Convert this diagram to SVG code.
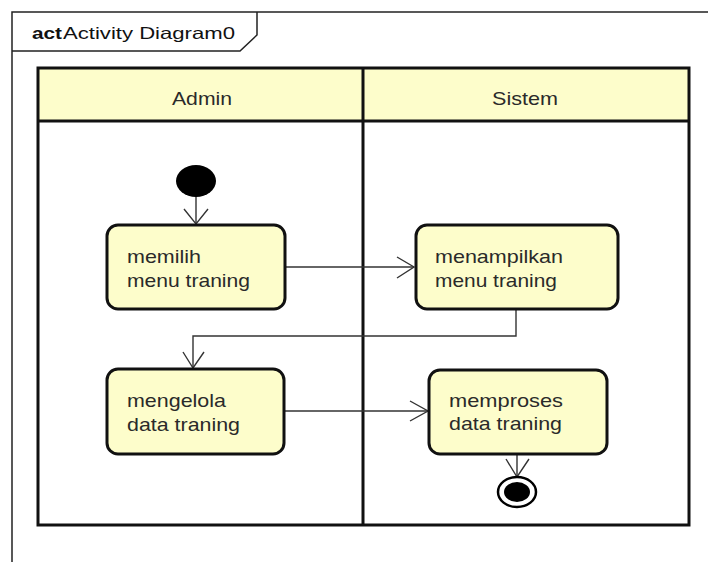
<svg xmlns="http://www.w3.org/2000/svg" width="708" height="562" viewBox="0 0 708 562">
<defs>
<style>
.frame{fill:none;stroke:#222;stroke-width:1.5}
.lane{fill:none;stroke:#111;stroke-width:3}
.hdr{fill:#fdfdcb;stroke:none}
.node{fill:#fdfdcb;stroke:#111;stroke-width:3}
.t{font-family:"Liberation Sans",Arial,sans-serif;font-size:19px;fill:#2a2a2a}
.edge{fill:none;stroke:#333;stroke-width:1.4}
.head{fill:none;stroke:#333;stroke-width:1.4}
</style>
</defs>
<rect width="708" height="562" fill="#fff"/>
<g id="frame">
<path class="frame" d="M12,562 V12 H708"/>
<path class="frame" d="M12,51 H240 L257,35 V12"/>
<text x="32" y="39" font-family="'Liberation Sans',Arial,sans-serif" font-size="16.5" fill="#111"><tspan font-weight="bold" textLength="30" lengthAdjust="spacingAndGlyphs">act</tspan><tspan x="63" textLength="172" lengthAdjust="spacingAndGlyphs">Activity Diagram0</tspan></text>
</g>
<g id="swimlanes">
<rect class="hdr" x="38" y="68" width="651" height="53"/>
<rect class="lane" x="38" y="68" width="651" height="457"/>
<line class="lane" x1="38" y1="121" x2="689" y2="121"/>
<line class="lane" x1="363" y1="68" x2="363" y2="525"/>
<text class="t" x="172" y="105" textLength="60" lengthAdjust="spacingAndGlyphs">Admin</text>
<text class="t" x="492" y="105" textLength="66" lengthAdjust="spacingAndGlyphs">Sistem</text>
</g>
<g id="edges">
<line class="edge" x1="196" y1="195" x2="196" y2="224"/>
<polyline class="head" points="184,209 196,224 208,209"/>
<line class="edge" x1="285" y1="267" x2="414" y2="267"/>
<polyline class="head" points="397,257 414,267 397,278"/>
<polyline class="edge" points="516,309 516,336 193,336 193,368"/>
<polyline class="head" points="183,352 193,368 204,352"/>
<line class="edge" x1="284" y1="411" x2="428" y2="411"/>
<polyline class="head" points="410,401 428,411 410,421"/>
<line class="edge" x1="517" y1="454" x2="517" y2="477"/>
<polyline class="head" points="506,459 517,477 529,459"/>
</g>
<g id="initial">
<ellipse cx="196" cy="181" rx="20" ry="16" fill="#000"/>
</g>
<g id="n1">
<rect class="node" x="107" y="225" width="178" height="84" rx="11"/>
<text class="t" x="127" y="263" textLength="74" lengthAdjust="spacingAndGlyphs">memilih</text>
<text class="t" x="127" y="287" textLength="123" lengthAdjust="spacingAndGlyphs">menu traning</text>
</g>
<g id="n2">
<rect class="node" x="416" y="225" width="202" height="84" rx="11"/>
<text class="t" x="435" y="263" textLength="128" lengthAdjust="spacingAndGlyphs">menampilkan</text>
<text class="t" x="435" y="287" textLength="122" lengthAdjust="spacingAndGlyphs">menu traning</text>
</g>
<g id="n3">
<rect class="node" x="107" y="369" width="177" height="85" rx="11"/>
<text class="t" x="127" y="407" textLength="99" lengthAdjust="spacingAndGlyphs">mengelola</text>
<text class="t" x="127" y="431" textLength="113" lengthAdjust="spacingAndGlyphs">data traning</text>
</g>
<g id="n4">
<rect class="node" x="429" y="370" width="178" height="84" rx="11"/>
<text class="t" x="449" y="407" textLength="114" lengthAdjust="spacingAndGlyphs">memproses</text>
<text class="t" x="449" y="430" textLength="113" lengthAdjust="spacingAndGlyphs">data traning</text>
</g>
<g id="final">
<ellipse cx="517" cy="492" rx="19" ry="15" fill="#fff" stroke="#000" stroke-width="2.5"/>
<ellipse cx="517" cy="492" rx="13" ry="10" fill="#000"/>
</g>
</svg>
